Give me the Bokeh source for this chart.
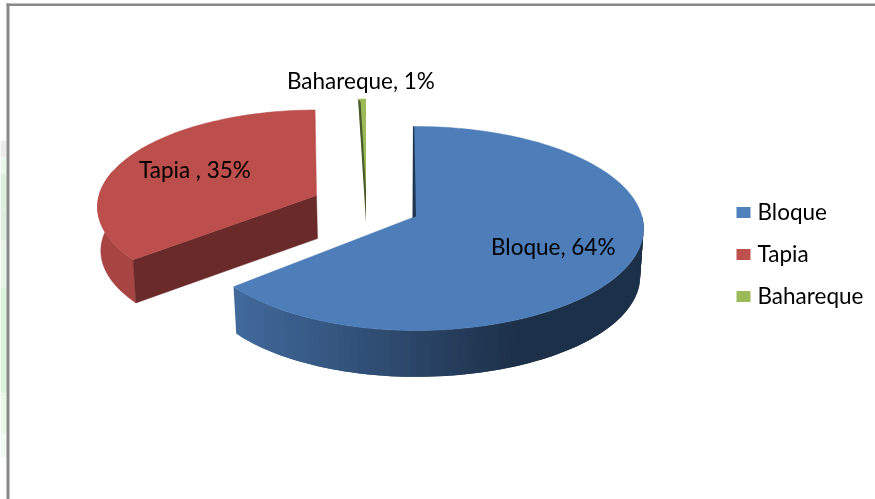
import numpy as np
from bokeh.plotting import figure
from bokeh.models import Range1d, ColumnDataSource
from bokeh.core.properties import value
from bokeh.embed import file_html
from bokeh.resources import INLINE

# ---- data ----
categories = ["Bloque", "Tapia", "Bahareque"]
shares = [64, 35, 1]
label_texts = ["Bloque, 64%", "Tapia , 35%", "Bahareque, 1%"]

# ---- styles ----
TOP = {"Bloque": "#4e7eb9", "Tapia": "#bc4f4c", "Bahareque": "#9bbb59"}
LEG = {"Bloque": "#4f81bd", "Tapia": "#c0504d", "Bahareque": "#9bbb59"}
FONT = "Lato"
FS = "22.5px"

# projective disc: far edge is nearer the centre than the near edge
K = 0.1176
A = 100.6
B = 226.5


def pts(theta_deg, ax, ay, sx=1.0, sy=1.0, left=1.0):
    t = np.radians(np.asarray(theta_deg, dtype=float))
    u, v = np.sin(t), np.cos(t)
    w = 1 + K * v
    return ax + sx * np.where(u < 0, left, 1.0) * B * u / w, ay - sy * A * v / w


def poly(*chunks):
    xs = np.concatenate([np.atleast_1d(c[0]) for c in chunks])
    ys = np.concatenate([np.atleast_1d(c[1]) for c in chunks])
    return list(xs), list(ys)


def lerp_hex(c1, c2, f):
    a = np.array([int(c1[i:i + 2], 16) for i in (1, 3, 5)])
    b = np.array([int(c2[i:i + 2], 16) for i in (1, 3, 5)])
    c = (a + (b - a) * np.clip(f, 0, 1)).round().astype(int)
    return "#%02x%02x%02x" % tuple(c)


p = figure(width=875, height=499, output_backend="svg", toolbar_location=None,
           x_range=Range1d(0, 875), y_range=Range1d(499, 0),
           min_border=0, outline_line_color=None, background_fill_color="white",
           border_fill_color="white",
           styles={"position": "fixed", "left": "0px", "top": "0px"})
p.xaxis.visible = False
p.yaxis.visible = False
p.grid.visible = False

# pale strip left of the frame
strip_y0 = [140, 157, 173, 210, 240, 287, 393, 433]
strip_y1 = [157, 173, 210, 240, 287, 393, 433, 457]
strip_c = ["#ececec", "#eaf6ea", "#dcf0dc", "#dfecdf", "#e6f3e6", "#dcf3dc", "#e8f7e8", "#f2fbf4"]
p.quad(left=0, right=6, top=strip_y0, bottom=strip_y1, fill_color=strip_c, line_color=None)

# frame
p.quad(left=6, right=9, top=3, bottom=499, fill_color="#888888", line_color=None)
p.quad(left=6, right=875, top=3, bottom=5.5, fill_color="#888888", line_color=None)

# slice angles from the values
start = -0.6
b_end = start + shares[0] * 3.6
r_start = b_end + 1.6
r_end = b_end + shares[1] * 3.6 * 1.03

# ---- Tapia (exploded to the upper left) ----
rax, ray, rsx, rsy, rd = 316.0, 195.0, 0.96, 0.95, 44.0
th = np.linspace(r_start, r_end, 80)
wall_th = np.linspace(r_start, 285, 30)
tx, ty = pts(wall_th, rax, ray, rsx, rsy)
bx, by = pts(wall_th[::-1], rax, ray + rd, rsx * 0.985, rsy * 0.985)
xs, ys = poly((tx, ty), (bx, by))
p.patch(xs, ys, fill_color="#a84543", line_color="#a84543", line_width=0.5)
sx0, sy0 = pts(r_start, rax, ray, rsx, rsy)
sx1, sy1 = pts(r_start, rax, ray + rd, rsx * 0.985, rsy * 0.985)
p.patch([float(sx0), rax, rax + 1, float(sx1)], [float(sy0), ray, ray + rd - 1, float(sy1)],
        fill_color="#6b2a2a", line_color="#6b2a2a", line_width=0.5)
fx, fy = pts(th, rax, ray, rsx, rsy)
xs, ys = poly((fx, fy), ([rax], [ray]))
p.patch(xs, ys, fill_color=TOP["Tapia"], line_color=TOP["Tapia"], line_width=0.5)

# ---- Bahareque (thin sliver, exploded upward) ----
gax, gay, gsx, gsy, gd = 365.5, 200.0, 0.62, 1.13, 22.0
g_th = np.linspace(360 - shares[2] * 3.6, 360, 6)
gx, gy = pts(g_th, gax, gay, gsx, gsy)
xs, ys = poly((gx, gy), ([gax], [gay]))
p.patch(xs, ys, fill_color=TOP["Bahareque"], line_color=None)
p.patch([float(gx[0]), gax, gax, float(gx[0]) + 2.5],
        [float(gy[0]), gay + gd, gay - 10, float(gy[0]) + 3],
        fill_color="#48592a", line_color=None)

# ---- Bloque ----
bax, bay, bd = 415.0, 216.0, 48.0
bs = 0.985
bl = 0.972
edges = np.linspace(b_end, 90, 90)
for i in range(len(edges) - 1):
    seg = np.linspace(edges[i], edges[min(i + 2, len(edges) - 1)], 3)
    x0, y0 = pts(seg, bax, bay, left=bl)
    x1, y1 = pts(seg[::-1], bax, bay + bd, bs, bs, left=bl)
    f = (float(x0[0]) - 236) / (515 - 236)
    c = lerp_hex("#41699b", "#1d3049", f)
    p.patch(list(x0) + list(x1), list(y0) + list(y1), fill_color=c, line_color=None)
b_th = np.linspace(start, b_end, 160)
fx, fy = pts(b_th, bax, bay, left=bl)
xs, ys = poly((fx, fy), ([bax], [bay]))
p.patch(xs, ys, fill_color=TOP["Bloque"], line_color=TOP["Bloque"], line_width=0.5)
px0, py0 = pts(start, bax, bay, left=bl)
p.patch([float(px0) - 0.5, float(px0) + 0.8, bax + 0.5, bax - 3],
        [float(py0), float(py0), bay, bay + 1.5],
        fill_color="#1f3550", line_color=None)

# ---- data labels ----
lab_x = [490.5, 138.5, 286.5]
lab_y = [245.5, 168.5, 79.5]
p.text(x=lab_x, y=lab_y, text=label_texts, text_font=value(FONT), text_font_size=value(FS),
       text_color="#000000", text_baseline="middle", text_align="left")

# ---- legend ----
leg_y = [212, 254, 296]
src = ColumnDataSource(dict(x=[743] * 3, tx=[757] * 3, y=leg_y, ty=[210.5, 252.5, 294.5],
                            c=[LEG[c] for c in categories], t=categories))
p.rect(x="x", y="y", width=14, height=11, fill_color="c", line_color=None, source=src)
p.text(x="tx", y="ty", text="t", source=src, text_font=value(FONT), text_font_size=value(FS),
       text_color="#000000", text_baseline="middle", text_align="left")

open("out.html", "w").write(file_html(p, INLINE))
